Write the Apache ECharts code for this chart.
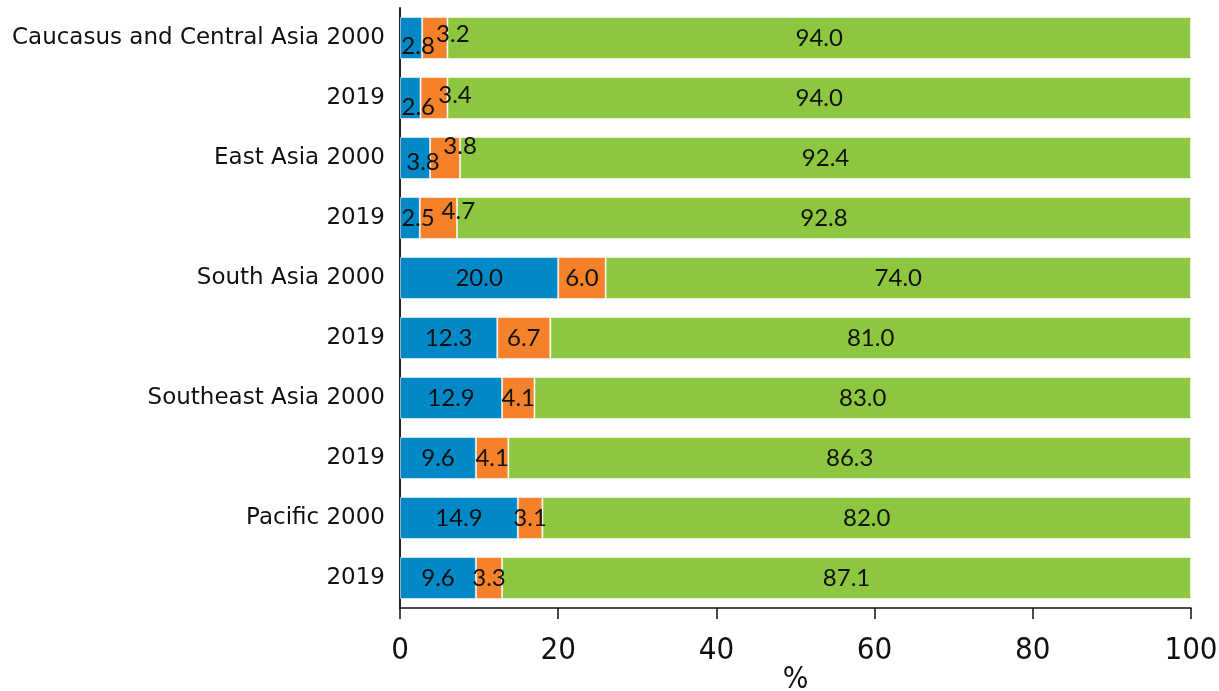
<!DOCTYPE html>
<html>
<head>
<meta charset="utf-8">
<script src="https://cdn.jsdelivr.net/npm/echarts@6/dist/echarts.min.js"></script>
<style>
  html, body { margin: 0; padding: 0; background: #fff; }
  #chart { width: 1219px; height: 691px; }
</style>
</head>
<body>
<div id="chart"></div>
<script>
// Region / year rows, top to bottom
const categories = [
  'Caucasus and Central Asia 2000', '2019',
  'East Asia 2000', '2019',
  'South Asia 2000', '2019',
  'Southeast Asia 2000', '2019',
  'Pacific 2000', '2019'
];

// Shares (%) per row for the three stacked segments
const blueValues   = [2.8, 2.6, 3.8, 2.5, 20.0, 12.3, 12.9, 9.6, 14.9, 9.6];
const orangeValues = [3.2, 3.4, 3.8, 4.7, 6.0, 6.7, 4.1, 4.1, 3.1, 3.3];
const greenValues  = [94.0, 94.0, 92.4, 92.8, 74.0, 81.0, 83.0, 86.3, 82.0, 87.1];

const xTicks = [0, 20, 40, 60, 80, 100];

// Thin segments get their labels nudged so neighbouring numbers don't collide
const blueNudge   = { 0: [7, 8], 1: [8, 9], 2: [8, 4], 3: [8, 0] };
const orangeNudge = { 0: [18, -4], 1: [21, -3], 2: [15, -12], 3: [20, -7] };

const textFont = "Lato, 'Noto Sans', sans-serif";
const catFont = "'DejaVu Sans', sans-serif";
const tickFont = "'DejaVu Sans Condensed', 'Liberation Sans Narrow', sans-serif";

function items(values, nudge) {
  return values.map((v, i) => {
    const item = { value: v };
    if (nudge && nudge[i]) item.label = { offset: nudge[i] };
    return item;
  });
}

function seg(name, values, color, nudge) {
  return {
    name: name,
    type: 'bar',
    stack: 'total',
    barWidth: 42,
    data: items(values, nudge),
    itemStyle: { color: color, borderColor: 'rgba(255,255,255,0.55)', borderWidth: 1 },
    label: {
      show: true,
      position: 'inside',
      color: '#111',
      fontFamily: textFont,
      fontSize: 24,
      formatter: p => p.value.toFixed(1)
    },
    emphasis: { disabled: true }
  };
}

const chart = echarts.init(document.getElementById('chart'), null, { renderer: 'canvas' });
chart.setOption({
  animation: false,
  backgroundColor: '#fff',
  grid: { left: 400, right: 28, top: 8, height: 600, outerBoundsMode: 'none', containLabel: false },
  xAxis: {
    type: 'value',
    min: xTicks[0],
    max: xTicks[xTicks.length - 1],
    interval: xTicks[1] - xTicks[0],
    name: '%',
    nameLocation: 'middle',
    nameMoveOverlap: false,
    nameGap: 57,
    nameTextStyle: { fontFamily: tickFont, fontSize: 30, color: '#111' },
    axisLine: { show: true, lineStyle: { color: '#111', width: 1.5 } },
    axisTick: { show: true, length: 11, lineStyle: { color: '#111', width: 1.5 } },
    splitLine: { show: false },
    axisLabel: { fontFamily: tickFont, fontSize: 31, color: '#111', margin: 27 }
  },
  yAxis: {
    type: 'category',
    inverse: true,
    data: categories,
    axisLine: { show: true, lineStyle: { color: '#222', width: 2 } },
    axisTick: { show: false },
    axisLabel: { fontFamily: catFont, fontSize: 23, color: '#111', margin: 15 }
  },
  series: [
    seg('Blue', blueValues, '#0088c7', blueNudge),
    seg('Orange', orangeValues, '#f5822a', orangeNudge),
    seg('Green', greenValues, '#8dc63f', null)
  ]
});
</script>
</body>
</html>
